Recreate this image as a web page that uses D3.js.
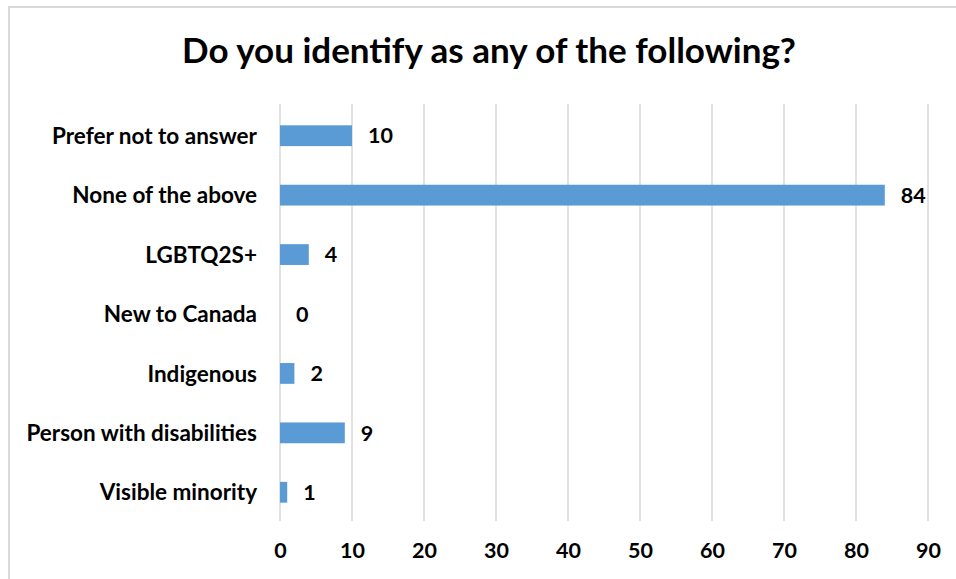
<!DOCTYPE html>
<html>
<head>
<meta charset="utf-8">
<script src="https://cdn.jsdelivr.net/npm/d3@7/dist/d3.min.js"></script>
<style>
  html, body { margin: 0; padding: 0; background: #ffffff; }
  svg { display: block; }
  text { font-family: Lato, "Open Sans", sans-serif; font-weight: 700; fill: #000; }
</style>
</head>
<body>
<script>
// Survey responses, listed top to bottom
const categories = [
  "Prefer not to answer",
  "None of the above",
  "LGBTQ2S+",
  "New to Canada",
  "Indigenous",
  "Person with disabilities",
  "Visible minority"
];
const counts = [10, 84, 4, 0, 2, 9, 1];
const xTicks = [0, 10, 20, 30, 40, 50, 60, 70, 80, 90];
const title = "Do you identify as any of the following?";

const W = 956, H = 579;
const plot = { left: 280, right: 928, top: 104, bottom: 521 };

const svg = d3.select("body").append("svg")
  .attr("width", W).attr("height", H);

// Chart frame (runs past the right and bottom edges)
svg.append("rect")
  .attr("x", 9).attr("y", 7)
  .attr("width", W + 20).attr("height", H + 20)
  .attr("fill", "#fff")
  .attr("stroke", "#d9d9d9").attr("stroke-width", 2);

const x = d3.scaleLinear().domain([0, 90]).range([plot.left, plot.right]);
const y = d3.scaleBand().domain(categories)
  .range([plot.top + 2, plot.bottom + 1]).paddingInner(0.65).paddingOuter(0.325);

// Vertical gridlines
svg.append("g").selectAll("line").data(xTicks).join("line")
  .attr("x1", d => x(d)).attr("x2", d => x(d))
  .attr("y1", plot.top).attr("y2", plot.bottom)
  .attr("stroke", "#d9d9d9").attr("stroke-width", 1.5);

// Bars
svg.append("g").selectAll("rect").data(categories).join("rect")
  .attr("x", x(0))
  .attr("y", d => y(d))
  .attr("width", (d, i) => x(counts[i]) - x(0))
  .attr("height", y.bandwidth())
  .attr("fill", "#5b9bd5");

// Value labels
svg.append("g").selectAll("text").data(categories).join("text")
  .attr("x", (d, i) => x(counts[i]) + 16)
  .attr("y", d => y(d) + y.bandwidth() / 2)
  .attr("dy", "0.36em")
  .style("font-size", "21.5px")
  .text((d, i) => counts[i]);

// Category axis labels
svg.append("g").selectAll("text").data(categories).join("text")
  .attr("x", 257)
  .attr("y", d => y(d) + y.bandwidth() / 2)
  .attr("dy", "0.36em")
  .attr("text-anchor", "end")
  .style("font-size", "22.5px")
  .text(d => d);

// Value axis tick labels
const xAxis = d3.axisBottom(x).tickValues(xTicks).tickSize(0).tickPadding(0);
const gx = svg.append("g")
  .attr("transform", `translate(0,${plot.bottom})`)
  .call(xAxis);
gx.select(".domain").remove();
gx.selectAll("text")
  .attr("y", 29)
  .attr("dy", "0.36em")
  .style("font-family", "Lato, 'Open Sans', sans-serif")
  .style("font-weight", 700)
  .style("font-size", "21.5px")
  .attr("fill", "#000");

// Title
svg.append("text")
  .attr("x", 489).attr("y", 63)
  .attr("text-anchor", "middle")
  .style("font-size", "35px")
  .text(title);
</script>
</body>
</html>
